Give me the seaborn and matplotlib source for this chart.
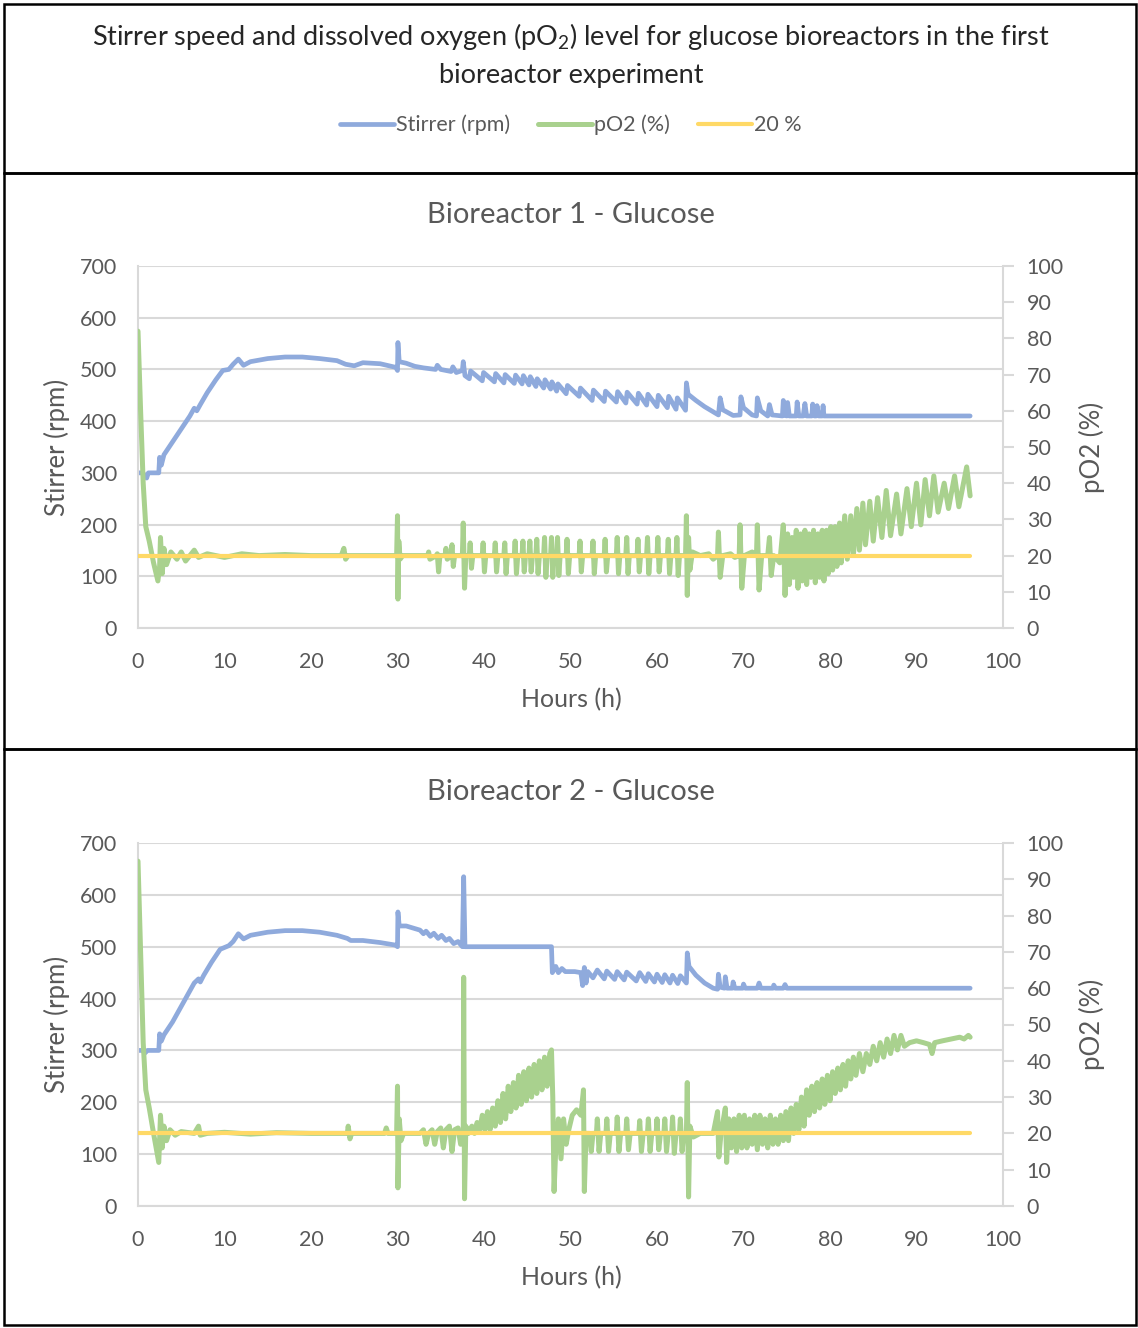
import matplotlib
matplotlib.use("Agg")
import matplotlib.pyplot as plt
from matplotlib.patches import Rectangle
import pandas as pd
import seaborn as sns

# values: (hours, value)
br1_stirrer = [
    (0, 300), (0.5, 300), (1.0, 290), (1.2, 300), (2.4, 300), (2.5, 330), (2.7, 315),
    (3.0, 335), (4.0, 360), (5.0, 385), (6.0, 410), (6.5, 425), (6.8, 420), (7.2, 432),
    (8.0, 455), (9.0, 480), (9.8, 498), (10.5, 500), (11.0, 510), (11.6, 520), (12.2, 508),
    (13.0, 515), (15.0, 521), (17.0, 524), (19.0, 524), (21.0, 521), (23.0, 517),
    (24.0, 510), (25.0, 507), (26.0, 513), (28.0, 511), (29.8, 504), (30.0, 498),
    (30.05, 552), (30.2, 515), (31.0, 512), (32.0, 506), (33.0, 503), (34.4, 500),
    (34.6, 508), (35.0, 500), (36.2, 496), (36.4, 505), (36.8, 494), (37.5, 498),
    (37.6, 515), (37.8, 488), (38.3, 482), (38.45, 497), (39.8, 478), (39.95, 494),
    (41.2, 476), (41.35, 492), (42.3, 474), (42.45, 490), (43.5, 473), (43.65, 489),
    (44.4, 472), (44.55, 488), (45.2, 470), (45.35, 486), (46.0, 467), (46.15, 482),
    (46.9, 464), (47.05, 480), (47.7, 462), (47.85, 476), (48.4, 458), (48.55, 472),
    (49.5, 453), (49.65, 469), (51.0, 448), (51.15, 464), (52.5, 440), (52.65, 460),
    (53.9, 438), (54.05, 458), (55.3, 437), (55.45, 457), (56.4, 435), (56.55, 456),
    (57.7, 433), (57.85, 454), (58.8, 431), (58.95, 452), (60.0, 428), (60.15, 450),
    (61.2, 426), (61.35, 448), (62.2, 423), (62.35, 445), (63.3, 421), (63.4, 474),
    (63.6, 452), (64.5, 440), (65.5, 428), (66.5, 418), (67.1, 412), (67.3, 445),
    (67.6, 422), (68.8, 411), (69.6, 412), (69.7, 447), (70.0, 426), (71.0, 412),
    (71.5, 410), (71.6, 445), (72.0, 420), (72.8, 410), (73.0, 432), (73.3, 412),
    (74.5, 410), (74.6, 440), (74.8, 411), (75.0, 410), (75.1, 436), (75.3, 410),
    (76.1, 410), (76.2, 437), (76.4, 410), (76.9, 410), (77.1, 434), (77.3, 410),
    (77.9, 410), (78.0, 433), (78.2, 410), (78.4, 410), (78.5, 430), (78.7, 410),
    (79.1, 410), (79.2, 430), (79.3, 410), (96.2, 410),
]

br1_po2 = [
    (0, 82), (0.3, 60), (0.6, 40), (0.9, 28), (1.3, 24), (1.8, 18), (2.3, 13), (2.5, 17),
    (2.6, 25), (2.8, 15), (3.0, 22), (3.3, 17.5), (3.8, 21), (4.5, 19), (5.0, 21),
    (5.5, 18.5), (6.5, 21.5), (7.0, 19.5), (8.0, 20.5), (10.0, 19.5), (12.0, 20.5),
    (14.0, 20), (17.0, 20.3), (20.0, 20), (23.5, 20), (23.8, 22), (24.0, 19), (24.3, 20),
    (27.0, 20), (29.9, 20), (30.0, 31), (30.05, 8), (30.15, 24), (30.3, 19), (30.6, 20),
    (33.5, 20), (33.6, 21), (33.75, 19), (34.5, 20), (34.6, 20.5), (34.75, 15.5),
    (34.9, 20), (35.5, 20), (35.6, 22), (35.75, 19), (36.2, 20), (36.3, 23), (36.45, 17),
    (36.6, 20), (37.5, 20), (37.6, 29), (37.75, 11), (37.9, 20), (38.3, 20), (38.4, 23.5),
    (38.55, 16.5), (38.7, 20), (39.8, 20), (39.9, 23.5), (40.05, 15.5), (40.2, 20),
    (41.2, 20), (41.3, 23.5), (41.45, 15.5), (41.6, 20), (42.3, 20), (42.4, 23.5),
    (42.55, 15), (42.7, 20), (43.5, 20), (43.6, 24), (43.75, 15), (43.9, 20), (44.4, 20),
    (44.5, 24), (44.65, 15.5), (44.8, 20), (45.2, 20), (45.3, 24), (45.45, 15.5),
    (45.6, 20), (46.0, 20), (46.1, 24.5), (46.25, 15), (46.4, 20), (46.9, 20), (47.0, 25),
    (47.15, 14), (47.3, 20), (47.7, 20), (47.8, 25), (47.95, 14), (48.1, 20), (48.4, 20),
    (48.5, 25), (48.65, 14.5), (48.8, 20), (49.5, 20), (49.6, 24.5), (49.75, 15),
    (49.9, 20), (51.0, 20), (51.1, 24), (51.25, 15.5), (51.4, 20), (52.5, 20), (52.6, 24),
    (52.75, 15), (52.9, 20), (53.9, 20), (54.0, 24.5), (54.15, 15.5), (54.3, 20),
    (55.3, 20), (55.4, 25), (55.55, 15), (55.7, 20), (56.4, 20), (56.5, 25), (56.65, 15),
    (56.8, 20), (57.7, 20), (57.8, 24.5), (57.95, 15.5), (58.1, 20), (58.8, 20), (58.9, 25),
    (59.05, 15), (59.2, 20), (60.0, 20), (60.1, 25), (60.25, 15.5), (60.4, 20), (61.2, 20),
    (61.3, 24.5), (61.45, 15), (61.6, 20), (62.2, 20), (62.3, 25), (62.45, 14.5),
    (62.6, 20), (63.3, 20), (63.4, 31), (63.5, 9), (63.65, 25), (63.8, 16), (64.1, 21),
    (65.0, 20), (66.0, 20.5), (66.5, 19), (67.0, 20), (67.1, 26.5), (67.3, 14), (67.6, 20),
    (68.5, 20.5), (69.0, 19.5), (69.5, 20), (69.6, 28.5), (69.8, 11), (70.1, 20),
    (71.0, 21), (71.5, 20), (71.6, 28.5), (71.8, 10.5), (72.1, 20), (72.8, 20), (73.0, 25),
    (73.2, 14.5), (73.5, 20), (74.2, 18), (74.6, 28.5), (74.8, 9), (75.1, 26), (75.3, 12),
    (75.6, 25), (75.8, 14), (76.1, 27), (76.3, 11), (76.6, 26), (76.8, 13), (77.1, 27),
    (77.3, 12), (77.6, 26), (77.8, 14), (78.1, 27), (78.3, 12.5), (78.6, 26), (78.8, 14),
    (79.1, 27), (79.3, 13), (79.6, 27), (79.8, 15), (80.1, 28), (80.3, 16), (80.6, 28),
    (80.8, 17), (81.1, 29), (81.3, 18), (81.7, 31), (82.0, 19), (82.4, 31), (82.7, 20),
    (83.1, 33), (83.4, 21.5), (83.8, 34.5), (84.1, 23), (84.6, 35), (85.0, 24),
    (85.5, 36), (86.0, 25), (86.5, 38), (87.0, 25.5), (87.7, 37), (88.2, 26), (88.9, 38.5),
    (89.4, 28), (90.0, 40), (90.5, 28.5), (91.0, 41), (91.5, 31), (92.0, 42), (92.5, 32),
    (93.2, 40), (93.7, 33), (94.4, 42), (94.9, 33.5), (95.8, 44.5), (96.2, 36.5),
]

br2_stirrer = [
    (0, 300), (0.5, 300), (0.8, 295), (1.1, 300), (2.4, 300), (2.5, 332), (2.7, 318),
    (3.0, 330), (4.0, 355), (5.0, 385), (6.0, 415), (6.5, 430), (7.0, 438), (7.2, 432),
    (7.6, 445), (8.5, 470), (9.5, 495), (10.5, 502), (11.0, 510), (11.6, 525), (12.2, 515),
    (13.0, 522), (15.0, 528), (17.0, 531), (19.0, 531), (21.0, 528), (23.0, 522),
    (24.2, 516), (24.6, 512), (26.0, 512), (28.0, 508), (29.8, 503), (30.0, 500),
    (30.05, 567), (30.2, 540), (31.0, 540), (32.0, 535), (32.6, 532), (33.0, 525),
    (33.3, 530), (33.8, 520), (34.2, 526), (34.7, 516), (35.1, 522), (35.6, 512),
    (36.0, 516), (36.5, 506), (37.0, 510), (37.5, 500), (37.65, 635), (37.8, 500),
    (47.8, 500), (47.9, 450), (48.3, 462), (48.6, 450), (49.0, 458), (49.4, 452),
    (50.5, 452), (51.2, 450), (51.4, 425), (51.6, 460), (51.8, 430), (52.0, 452),
    (52.6, 440), (53.1, 455), (53.9, 438), (54.2, 453), (55.1, 437), (55.4, 452),
    (56.2, 436), (56.5, 451), (57.6, 434), (58.0, 450), (58.7, 433), (59.0, 448),
    (59.7, 432), (60.0, 447), (60.6, 431), (60.9, 446), (61.5, 430), (61.8, 445),
    (62.4, 429), (62.7, 444), (63.4, 430), (63.5, 488), (63.7, 462), (64.5, 445),
    (65.5, 430), (66.5, 420), (67.0, 418), (67.1, 447), (67.3, 422), (67.8, 420),
    (67.9, 442), (68.1, 420), (68.7, 420), (68.8, 432), (69.0, 420), (69.9, 420),
    (70.0, 428), (70.2, 420), (71.6, 420), (71.8, 430), (72.0, 420), (73.4, 420),
    (73.5, 426), (73.7, 420), (74.6, 420), (74.8, 427), (75.0, 420), (96.2, 420),
]

br2_po2 = [
    (0, 95), (0.3, 70), (0.6, 45), (0.9, 32), (1.3, 27), (1.8, 20), (2.4, 12), (2.6, 25),
    (2.8, 16), (3.0, 22), (3.3, 18), (3.7, 21), (4.3, 19.5), (5.0, 20.5), (6.5, 20),
    (7.0, 22), (7.2, 19.5), (8.0, 20), (10.0, 20.3), (13.0, 19.8), (16.0, 20.2), (20.0, 20),
    (24.2, 20), (24.3, 22), (24.5, 18.5), (24.7, 20), (28.5, 20), (28.7, 21.5),
    (28.9, 20), (29.9, 20), (30.0, 33), (30.05, 5), (30.2, 24), (30.4, 18), (30.7, 20),
    (32.6, 20), (33.0, 21), (33.3, 17), (33.6, 20), (34.0, 21), (34.3, 17), (34.6, 20.5),
    (35.0, 21.5), (35.3, 16), (35.6, 21), (36.0, 22), (36.3, 15), (36.6, 21), (37.0, 21.5),
    (37.3, 17), (37.6, 20), (37.65, 63), (37.75, 2), (37.9, 22), (38.2, 20), (38.6, 22),
    (38.9, 20), (39.2, 23), (39.5, 21), (39.8, 25), (40.1, 21), (40.4, 26), (40.7, 21),
    (41.0, 27), (41.3, 22), (41.6, 29), (41.9, 23), (42.2, 31), (42.5, 24), (42.8, 33),
    (43.1, 26), (43.4, 34), (43.7, 27), (44.0, 36), (44.3, 28), (44.6, 37), (44.9, 29),
    (45.2, 38), (45.5, 30), (45.8, 39), (46.1, 31), (46.4, 40), (46.7, 32), (47.0, 41),
    (47.3, 33), (47.6, 42), (47.8, 43), (47.95, 30), (48.1, 4), (48.3, 16), (48.6, 24),
    (48.9, 13), (49.2, 24), (49.5, 17), (49.8, 21), (50.2, 25), (50.7, 26.5), (51.2, 25),
    (51.5, 32), (51.6, 4), (51.8, 20), (52.2, 20), (52.4, 15), (52.6, 20), (53.0, 20),
    (53.1, 24), (53.3, 15), (53.5, 20), (54.1, 20), (54.2, 24), (54.4, 15), (54.6, 20),
    (55.3, 20), (55.4, 24.5), (55.6, 15), (55.8, 20), (56.4, 20), (56.5, 24), (56.7, 15.5),
    (56.9, 20), (57.9, 20), (58.0, 23.5), (58.2, 15), (58.4, 20), (58.9, 20), (59.0, 24),
    (59.2, 15), (59.4, 20), (59.9, 20), (60.0, 24), (60.2, 15.5), (60.4, 20), (60.8, 20),
    (60.9, 24), (61.1, 15), (61.3, 20), (61.7, 20), (61.8, 24.5), (62.0, 14.5), (62.2, 20),
    (62.6, 20), (62.7, 24), (62.9, 15), (63.1, 20), (63.4, 20), (63.5, 34), (63.65, 2.5),
    (63.8, 22), (64.2, 19), (65.0, 20), (66.5, 20), (67.0, 26), (67.15, 13.5), (67.4, 20),
    (67.9, 27), (68.05, 12), (68.3, 24), (68.6, 16), (68.9, 24), (69.2, 15), (69.5, 25),
    (69.8, 16), (70.1, 25), (70.4, 16), (70.7, 24), (71.0, 17), (71.3, 25), (71.6, 15.5),
    (71.9, 25), (72.2, 17), (72.5, 24), (72.8, 16), (73.1, 25), (73.4, 17), (73.7, 24),
    (74.0, 17), (74.3, 25), (74.6, 18), (74.9, 26), (75.2, 18), (75.5, 27), (75.8, 20),
    (76.1, 28), (76.4, 21), (76.7, 30), (77.0, 22), (77.3, 32), (77.6, 25), (77.9, 33),
    (78.2, 26), (78.5, 34), (78.8, 27), (79.1, 35), (79.4, 28), (79.7, 36), (80.0, 29),
    (80.3, 37), (80.6, 31), (80.9, 38), (81.2, 32), (81.5, 39), (81.8, 33), (82.1, 40),
    (82.4, 35), (82.7, 41), (83.0, 36), (83.4, 42), (83.8, 37), (84.2, 42), (84.6, 39),
    (85.0, 44), (85.4, 40), (85.8, 45), (86.2, 41), (86.6, 46), (87.0, 42), (87.4, 47),
    (87.8, 43), (88.2, 47), (88.6, 44), (89.2, 45), (90.0, 45.5), (90.8, 45), (91.5, 44.5),
    (91.8, 42), (92.1, 45), (93.0, 45.5), (94.0, 46), (95.0, 46.5), (95.5, 46), (96.0, 47),
    (96.2, 46.5),
]

limit_hours = [0, 96.2]
limit_po2 = [20, 20]

series_names = ["Stirrer (rpm)", "pO2 (%)", "20 %"]
panel_titles = ["Bioreactor 1 - Glucose", "Bioreactor 2 - Glucose"]
rpm_ticks = [0, 100, 200, 300, 400, 500, 600, 700]
pct_ticks = [0, 10, 20, 30, 40, 50, 60, 70, 80, 90, 100]
hour_ticks = [0, 10, 20, 30, 40, 50, 60, 70, 80, 90, 100]

BLUE = "#8FAADC"
GREEN = "#A9D18E"
YELLOW = "#FFD966"
GRID = "#D9D9D9"
TEXT = "#595959"

sns.set_style("white")
plt.rcParams["font.family"] = ["Lato", "DejaVu Sans"]
plt.rcParams["mathtext.fontset"] = "custom"
plt.rcParams["mathtext.rm"] = "Lato"

W, H = 1138, 1328
fig = plt.figure(figsize=(W / 100, H / 100), dpi=100)


def fx(px):
    return px / W


def fy(py):
    return 1 - py / H


def frame(x0, y0, x1, y1):
    fig.add_artist(Rectangle((fx(x0), fy(y1)), fx(x1) - fx(x0), fy(y0) - fy(y1),
                             transform=fig.transFigure, fill=False,
                             edgecolor="black", lw=1.8))


def to_df(pairs):
    return pd.DataFrame(pairs, columns=["hours", "value"])


def draw_panel(top, bottom, title, stirrer, po2):
    ax = fig.add_axes([fx(138), fy(bottom), fx(1003) - fx(138), fy(top) - fy(bottom)])
    s = to_df(stirrer)
    sns.lineplot(data=s, x="hours", y="value", ax=ax, color=BLUE, lw=3.4,
                 estimator=None, label=series_names[0], legend=False)
    ax.set_xlim(0, 100)
    ax.set_ylim(0, 700)
    ax.set_xticks(hour_ticks)
    ax.set_yticks(rpm_ticks)
    ax.grid(axis="y", color=GRID, lw=1.5)
    ax.set_axisbelow(True)
    for side in ["top", "right"]:
        ax.spines[side].set_visible(False)
    for side in ["left", "bottom"]:
        ax.spines[side].set_color(GRID)
        ax.spines[side].set_linewidth(1.5)
    ax.tick_params(axis="y", length=0, labelsize=15.5, colors=TEXT, pad=15)
    ax.tick_params(axis="x", length=0, labelsize=15.5, colors=TEXT, pad=17)
    ax.set_xlabel("")
    ax.set_ylabel("")

    ax2 = ax.twinx()
    p = to_df(po2)
    sns.lineplot(data=p, x="hours", y="value", ax=ax2, color=GREEN, lw=3.6,
                 estimator=None, label=series_names[1], legend=False)
    sns.lineplot(x=limit_hours, y=limit_po2, ax=ax2, color=YELLOW, lw=3,
                 estimator=None, label=series_names[2], legend=False)
    ax2.set_ylim(0, 100)
    ax2.set_yticks(pct_ticks)
    for side in ["top", "left", "bottom"]:
        ax2.spines[side].set_visible(False)
    ax2.spines["right"].set_color(GRID)
    ax2.spines["right"].set_linewidth(1.5)
    ax2.tick_params(axis="y", direction="out", length=8, width=1.5, color=GRID,
                    labelsize=15.5, labelcolor=TEXT, pad=9)
    ax2.set_ylabel("")

    mid = (top + bottom) / 2
    fig.text(fx(571), fy(top - 51), title, ha="center", va="center",
             fontsize=21, color=TEXT)
    fig.text(fx(571), fy(bottom + 72), "Hours (h)", ha="center", va="center",
             fontsize=18, color=TEXT)
    fig.text(fx(57), fy(mid), "Stirrer (rpm)", ha="center", va="center",
             rotation=90, fontsize=18.5, color=TEXT)
    fig.text(fx(1092), fy(mid), "pO2 (%)", ha="center", va="center",
             rotation=90, fontsize=18.5, color=TEXT)
    return ax, ax2


ax_a, ax_a2 = draw_panel(266, 628, panel_titles[0], br1_stirrer, br1_po2)
ax_b, ax_b2 = draw_panel(843, 1206, panel_titles[1], br2_stirrer, br2_po2)

# header
fig.text(fx(571), fy(36),
         r"Stirrer speed and dissolved oxygen (pO$_\mathregular{2}$) level for glucose bioreactors in the first",
         ha="center", va="center", fontsize=19.5, color="#262626")
fig.text(fx(571), fy(75), "bioreactor experiment", ha="center", va="center",
         fontsize=19.5, color="#262626")

handles = ax_a.get_lines()[:1] + ax_a2.get_lines()[:2]
fig.legend(handles, series_names, loc="center", bbox_to_anchor=(fx(571), fy(125)),
           ncol=3, frameon=False, fontsize=15.5, labelcolor=TEXT, handlelength=2.5,
           handletextpad=0.1, columnspacing=1.3)

frame(4, 4, 1136, 173)
frame(4, 173, 1136, 749)
frame(4, 749, 1136, 1325)

fig.savefig("out.png", dpi=100)
